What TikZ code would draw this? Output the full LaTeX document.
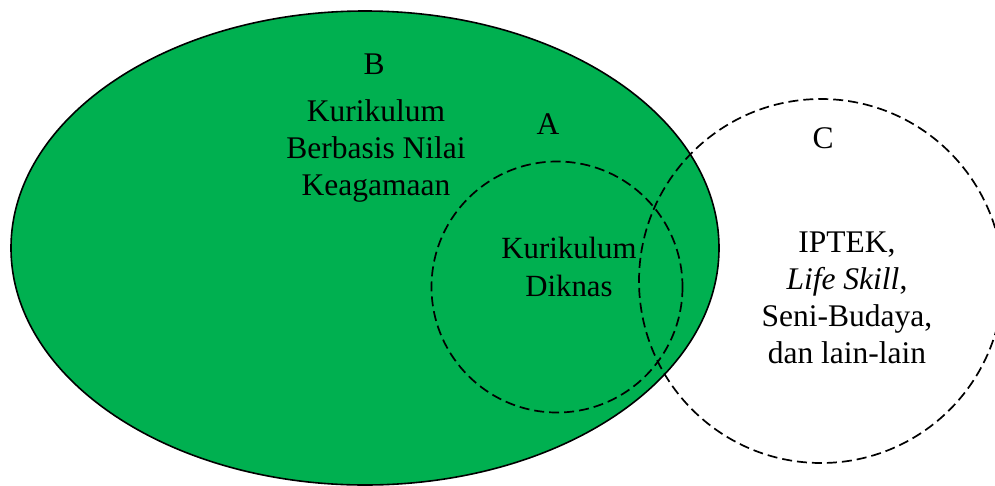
\documentclass[tikz,border=0pt]{standalone}
\usepackage{fontspec}
\setmainfont{Liberation Serif}
\definecolor{wordgreen}{HTML}{00B050}
\begin{document}
\begin{tikzpicture}[x=1pt,y=-1pt,
  setB/.style={fill=wordgreen,draw=black,line width=1.6pt},
  setdash/.style={draw=black,line width=1.7pt,dash pattern=on 10pt off 5pt},
  lbl/.style={font=\fontsize{31.5}{37}\selectfont,align=center,anchor=base,inner sep=0pt},
  lblA/.style={lbl,font=\fontsize{30.8}{38}\selectfont}]
\useasboundingbox (0,0) rectangle (995,485);
\path[setB] (365,248) ellipse [x radius=354, y radius=237];
\path[setdash] (557,287) circle [radius=125.5];
\path[setdash] (821,281) circle [radius=182];
\node[lbl] (labB) at (374,74) {B};
\node[lbl] (txtB) at (376,195) {Kurikulum\\Berbasis Nilai\\Keagamaan};
\node[lbl] (labA) at (548,134) {A};
\node[lblA] (txtA) at (569,296) {Kurikulum\\Diknas};
\node[lbl] (labC) at (823,148) {C};
\node[lbl] (txtC) at (847,363) {IPTEK,\\\textit{Life Skill},\\Seni-Budaya,\\dan lain-lain};
\end{tikzpicture}
\end{document}
